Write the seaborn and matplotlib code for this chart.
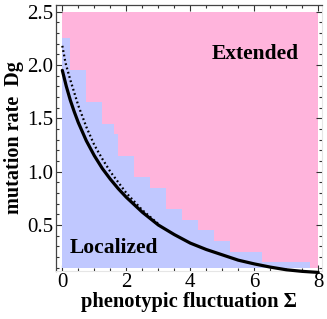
import numpy as np
import pandas as pd
import matplotlib
matplotlib.use('Agg')
import matplotlib.pyplot as plt
import seaborn as sns

# phase boundary staircase (edges in sigma, top of localized region)
step_edges = [0, 0.25, 0.75, 1.25, 1.625, 1.75, 2.25, 2.75, 3.25, 3.75, 4.25, 4.75, 5.25, 6.25, 7.75, 8]
step_tops = [2.25, 1.95, 1.65, 1.45, 1.35, 1.15, 0.95, 0.85, 0.65, 0.55, 0.45, 0.35, 0.25, 0.15, 0.1]
region_bottom = 0.1
region_top = 2.5

# theory curves
sigma_solid = [0, 0.125, 0.25, 0.375, 0.5, 0.75, 1.0, 1.25, 1.5, 1.75, 2.0, 2.25, 2.5, 2.75,
               3.0, 3.5, 4.0, 4.5, 5.0, 5.5, 6.0, 6.5, 7.0, 7.5, 8.0]
dg_solid = [1.95, 1.80, 1.67, 1.56, 1.46, 1.29, 1.15, 1.03, 0.93, 0.84, 0.76, 0.69, 0.62, 0.56,
            0.50, 0.41, 0.33, 0.27, 0.22, 0.17, 0.135, 0.105, 0.08, 0.065, 0.055]
sigma_dot = [0, 0.1, 0.25, 0.5, 0.75, 1.0, 1.25, 1.5, 1.75, 2.0, 2.5, 3.0]
dg_dot = [2.18, 2.02, 1.86, 1.62, 1.42, 1.25, 1.12, 1.00, 0.90, 0.80, 0.64, 0.51]

sns.set_style('ticks')
plt.rcParams['font.family'] = ['Liberation Serif', 'DejaVu Serif']
plt.rcParams['text.color'] = 'black'
plt.rcParams['axes.labelcolor'] = 'black'
plt.rcParams['xtick.labelcolor'] = 'black'
plt.rcParams['ytick.labelcolor'] = 'black'

fig = plt.figure(figsize=(3.27, 3.19), dpi=100)
ax = fig.add_axes([0.171, 0.152, 0.814, 0.832])

# extended (pink) background then localized (blue) staircase
ax.fill_between([0, 8], region_bottom, region_top, color='#FFB4DC', lw=0, zorder=0)
tops = step_tops + [step_tops[-1]]
ax.fill_between(step_edges, region_bottom, tops, step='post', color='#C0C8FF', lw=0, zorder=1)

df_solid = pd.DataFrame({'sigma': sigma_solid, 'dg': dg_solid})
df_dot = pd.DataFrame({'sigma': sigma_dot, 'dg': dg_dot})
sns.lineplot(data=df_dot, x='sigma', y='dg', ax=ax, color='black', lw=1.6,
             linestyle=(0, (0.8, 1.2)), zorder=3)
sns.lineplot(data=df_solid, x='sigma', y='dg', ax=ax, color='black', lw=2.3,
             zorder=4, clip_on=False)

ax.set_xlim(-0.2, 8.12)
ax.set_ylim(0.073, 2.562)
ax.set_xticks([0, 2, 4, 6, 8])
ax.set_xticks(np.arange(0, 8.01, 0.5), minor=True)
ax.set_yticks([0.5, 1.0, 1.5, 2.0, 2.5])
ax.set_yticklabels(['0.5', '1.0', '1.5', '2.0', '2.5'])
ax.set_yticks(np.arange(0.1, 2.56, 0.1), minor=True)
ax.tick_params(which='both', direction='in', top=True, right=True, labelsize=15,
               color='#333333', labelcolor='black', width=0.8, pad=2)
ax.tick_params(which='major', length=4)
ax.tick_params(which='minor', length=2)

for side in ['left', 'top']:
    ax.spines[side].set_color('#444444')
    ax.spines[side].set_linewidth(0.9)
for side in ['right', 'bottom']:
    ax.spines[side].set_color('#e6e6e6')
    ax.spines[side].set_linewidth(0.8)

ax.set_xlabel('phenotypic fluctuation Σ', fontsize=14.8, fontweight='bold', labelpad=0, color='black')
ax.set_ylabel('mutation rate  Dg', fontsize=14.5, fontweight='bold', labelpad=2, color='black')

ax.text(6.02, 2.1, 'Extended', fontsize=15.5, fontweight='bold', ha='center', va='center', color='black')
ax.text(1.62, 0.28, 'Localized', fontsize=15.5, fontweight='bold', ha='center', va='center', color='black')

fig.savefig('out.png', dpi=100)
